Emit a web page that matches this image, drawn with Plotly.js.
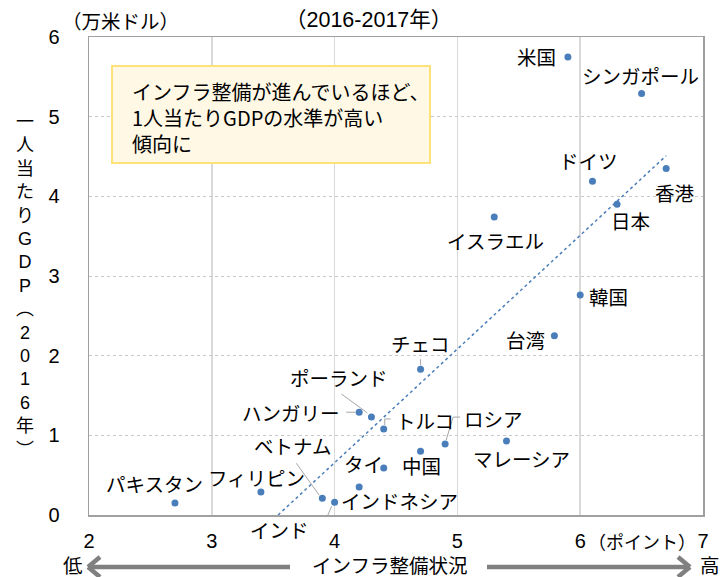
<!DOCTYPE html>
<html><head><meta charset="utf-8">
<script src="https://cdn.plot.ly/plotly-3.0.1.min.js"></script>
<style>body{margin:0;background:#fff}#chart{width:726px;height:577px}</style>
</head><body><div id="chart"></div>
<script>
// ---- data ----
const countries = ['米国','シンガポール','香港','ドイツ','日本','イスラエル','韓国','台湾','チェコ','ポーランド','ハンガリー','トルコ','ロシア','中国','マレーシア','タイ','インドネシア','ベトナム','インド','フィリピン','パキスタン'];
const infra = [5.90,6.50,6.70,6.10,6.30,5.30,6.00,5.79,4.70,4.30,4.20,4.40,4.90,4.70,5.40,4.40,4.20,3.90,4.00,3.40,2.70];
const gdp   = [5.75,5.29,4.35,4.19,3.90,3.74,2.76,2.25,1.83,1.23,1.29,1.08,0.89,0.80,0.93,0.59,0.35,0.21,0.16,0.29,0.15];
const xTicks = [2,3,4,5,6,7];
const yTicks = [0,1,2,3,4,5,6];

// ---- label placement (screen px offsets from point: dx right, dy down) ----
const labelOffsets = [[-31,0],[-1,-18],[9,24],[-4,-21],[13,16],[1,23],[28,1],[-29,4],[0,-26],[-32,-40],[-68,0],[41,-8],[48,-26],[1,14],[15,18],[-20,-5],[40,13],[-30,-53],[-55,27],[-4,-14],[-20,-20]];
// leader segments (screen px from point)
const leaders = {
  9: [[-30,-23,-4,-4]],
  10: [[-13,0,-4,0]],
  11: [[1,-4,1,-10],[1,-10,7,-10]],
  12: [[15,-27,8,-27],[8,-27,1,-4]],
  8: [[0,-10,0,-4]],
  17: [[-26,-35,-3,-3]],
  18: [[-23,37,-17,37],[-17,37,-3,4]]
};

// regression trend line
const n = infra.length;
const mx = infra.reduce((a,b)=>a+b,0)/n, my = gdp.reduce((a,b)=>a+b,0)/n;
let sxy=0, sxx=0;
for(let i=0;i<n;i++){sxy+=(infra[i]-mx)*(gdp[i]-my); sxx+=(infra[i]-mx)**2;}
const slope = sxy/sxx, icpt = my - slope*mx;
const xmin = Math.min(...infra), xmax = Math.max(...infra);
const x0t = Math.max(xmin, -icpt/slope);
const trendX = [x0t, xmax], trendY = trendX.map(v=>icpt+slope*v);

const W=726,H=577,L=89,R=23,T=37,B=62;
const pw=W-L-R, ph=H-T-B;
const px = X => (X-L)/pw;
const py = Y => 1-(Y-T)/ph;

const FONT = 'Liberation Sans, Arial, Noto Sans CJK JP, sans-serif';
const JFONT = 'Noto Sans CJK JP, sans-serif';
const blue = '#4a7ebb';
const grey = '#808080';

const annotations = [];
const shapes = [];
countries.forEach((c,i)=>{
  annotations.push({x:infra[i], y:gdp[i], xref:'x', yref:'y', text:c, showarrow:false,
    xanchor:'center', yanchor:'middle',
    xshift:labelOffsets[i][0], yshift:-labelOffsets[i][1], font:{family:JFONT,size:19.5,color:'#000'}});
  (leaders[i]||[]).forEach(s=>{
    shapes.push({type:'line', xref:'x', yref:'y', xsizemode:'pixel', ysizemode:'pixel',
      xanchor:infra[i], yanchor:gdp[i], x0:s[0], y0:-s[1], x1:s[2], y1:-s[3],
      line:{color:'#a6a6a6', width:1}});
  });
});

const pa = (X,Y,text,size,family,extra)=>Object.assign({xref:'paper', yref:'paper', x:px(X), y:py(Y), text:text,
  showarrow:false, xanchor:'center', yanchor:'middle', font:{family:family||JFONT,size:size,color:'#000'}}, extra||{});

// note box
shapes.push({type:'rect', xref:'paper', yref:'paper', x0:px(112), x1:px(430), y0:py(163), y1:py(66),
  fillcolor:'#fff8e5', line:{color:'#ffe17a', width:2}, layer:'above'});
annotations.push(pa(130,75,'インフラ整備が進んでいるほど、<br>1人当たりGDPの水準が高い<br>傾向に',20,JFONT,
  {xanchor:'left', yanchor:'top', align:'left'}));

// titles
annotations.push(pa(368,20,'（2016-2017年）',21.5,FONT));
annotations.push(pa(120,21,'（万米ドル）',19.5));
const ytitle = ['一','人','当','た','り','G','D','P','︵','2','0','1','6','年','︶'];
annotations.push(pa(25,286,ytitle.join('<br>'),18,FONT));
annotations.push(pa(642,541,'（ポイント）',18));
annotations.push(pa(73,564,'低',19.5));
annotations.push(pa(710,564,'高',19.5));
annotations.push(pa(389,564,'インフラ整備状況',19.5));

// arrows
const arrowLine = (a,b,c,d)=>({type:'line', xref:'paper', yref:'paper', x0:px(a), y0:py(b), x1:px(c), y1:py(d),
  line:{color:grey, width:4.5}});
shapes.push(arrowLine(90,567,290,567), arrowLine(88,567,100,557), arrowLine(88,567,100,577));
shapes.push(arrowLine(487,567,688,567), arrowLine(690,567,678,557), arrowLine(690,567,678,577));

const traces = [
  {x:trendX, y:trendY, mode:'lines', line:{color:blue, width:1.5, dash:'dot'}, hoverinfo:'skip', showlegend:false},
  {x:infra, y:gdp, text:countries, mode:'markers', marker:{color:blue, size:7}, showlegend:false}
];

const layout = {
  width:W, height:H, margin:{l:L, r:R, t:T, b:B}, paper_bgcolor:'#fff', plot_bgcolor:'#fff',
  showlegend:false,
  xaxis:{range:[2,7], tickvals:xTicks, ticktext:xTicks.map(String), showgrid:true, gridcolor:'#d9d9d9', gridwidth:1.5,
    zeroline:false, showline:true, linecolor:'#a0a0a0', linewidth:1.5, mirror:true, ticks:'',
    tickfont:{family:FONT,size:20,color:'#000'}, ticklabelstandoff:7, fixedrange:true},
  yaxis:{range:[0,6], tickvals:yTicks, ticktext:yTicks.map(String), showgrid:true, gridcolor:'#c8c8c8', griddash:'dot', gridwidth:1,
    zeroline:false, showline:true, linecolor:'#a0a0a0', linewidth:1.5, mirror:true, ticks:'',
    tickfont:{family:FONT,size:20,color:'#000'}, ticklabelstandoff:24, fixedrange:true},
  annotations:annotations, shapes:shapes
};
Plotly.newPlot('chart', traces, layout, {staticPlot:true});
</script></body></html>
